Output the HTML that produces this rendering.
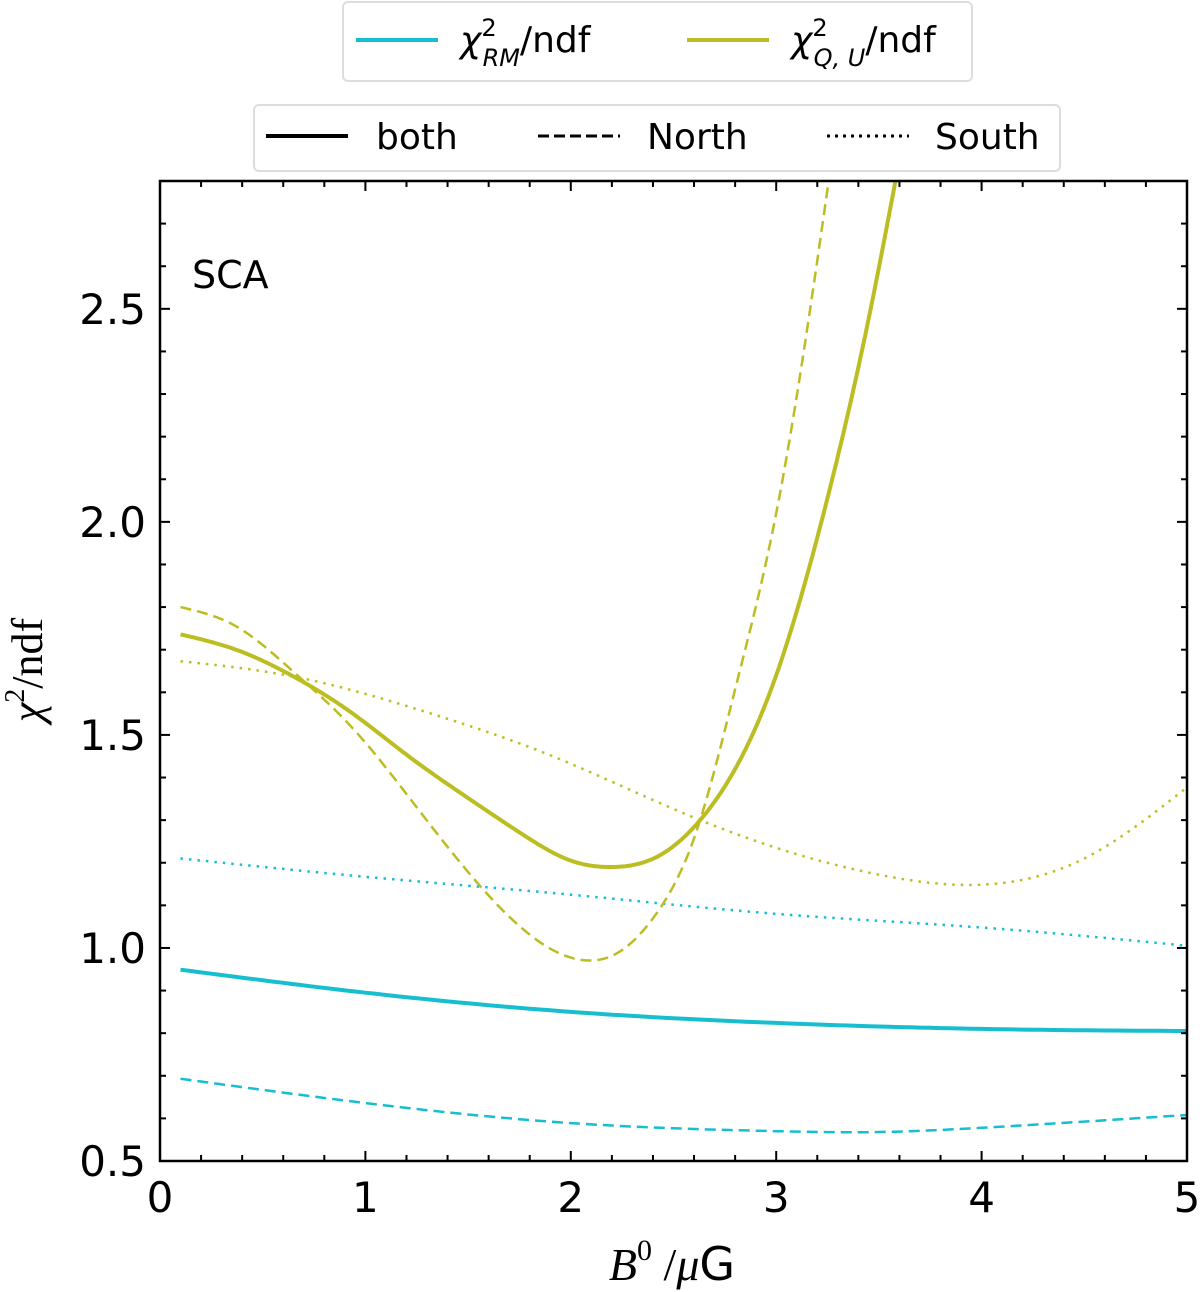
<!DOCTYPE html>
<html><head><meta charset="utf-8"><style>
body{margin:0;background:#fff;width:1200px;height:1292px;overflow:hidden}
svg{display:block}
</style></head><body>
<svg id="chart" width="1200" height="1292" xmlns="http://www.w3.org/2000/svg" font-family="'DejaVu Sans', 'Liberation Sans', sans-serif">
<defs><clipPath id="clip"><rect x="160" y="181" width="1027" height="980"/></clipPath></defs>
<g id="series" clip-path="url(#clip)"></g>
<rect x="160" y="181" width="1027" height="980" fill="none" stroke="#000" stroke-width="2.5"/>
<g id="ticks"></g>
<text x="192" y="288" font-size="38">SCA</text>
<text x="672" y="1280" font-size="46" text-anchor="middle" font-family="'Liberation Serif', serif"><tspan font-style="italic">B</tspan><tspan font-size="30" dy="-20">0</tspan><tspan dy="20"> /</tspan><tspan font-style="italic">μ</tspan><tspan font-family="'DejaVu Sans', sans-serif">G</tspan></text>
<text transform="translate(42,670) rotate(-90)" font-size="44" text-anchor="middle" font-family="'Liberation Serif', serif"><tspan font-style="italic">χ</tspan><tspan font-size="28" dy="-18">2</tspan><tspan dy="18">/ndf</tspan></text>
<g>
<rect x="343" y="2" width="629" height="79" rx="5" fill="#fff" stroke="#ddd" stroke-width="2"/>
<line x1="356" y1="40" x2="438" y2="40" stroke="#17becf" stroke-width="4"/>
<text x="460" y="52" font-size="36"><tspan font-style="italic">χ</tspan><tspan font-size="24" dy="-16">2</tspan><tspan font-size="24" font-style="italic" dx="-14" dy="30">RM</tspan><tspan dy="-14">/ndf</tspan></text>
<line x1="687" y1="40" x2="769" y2="40" stroke="#bcbd22" stroke-width="4"/>
<text x="791" y="52" font-size="36"><tspan font-style="italic">χ</tspan><tspan font-size="24" dy="-16">2</tspan><tspan font-size="24" font-style="italic" dx="-14" dy="30">Q, U</tspan><tspan dy="-14">/ndf</tspan></text>
</g>
<g>
<rect x="254" y="105" width="806" height="66" rx="5" fill="#fff" stroke="#ddd" stroke-width="2"/>
<line x1="266" y1="136" x2="348" y2="136" stroke="#000" stroke-width="4"/>
<text x="376" y="149" font-size="36">both</text>
<line x1="538" y1="136" x2="620" y2="136" stroke="#000" stroke-width="3" stroke-dasharray="11,5"/>
<text x="647" y="149" font-size="36">North</text>
<line x1="827" y1="136" x2="909" y2="136" stroke="#000" stroke-width="3" stroke-dasharray="3,5"/>
<text x="935" y="149" font-size="36">South</text>
</g>
</svg>
<script>
const xRM = [0.1,1,2,3,4,5];
const rmBoth = [0.949,0.895,0.85,0.824,0.81,0.805];
const xRMn = [0.1,1,2,3,3.5,4,5];
const rmNorth = [0.693,0.636,0.589,0.57,0.568,0.578,0.608];
const rmSouth = [1.21,1.167,1.125,1.08,1.048,1.005];
const xQUb = [0.1,0.37,0.65,0.93,1.21,1.49,1.77,2.0,2.2,2.42,2.63,2.80,3.0,3.22,3.46,3.6];
const quBoth = [1.736,1.70,1.637,1.553,1.45,1.355,1.265,1.205,1.19,1.214,1.30,1.42,1.64,2.0,2.5,2.85];
const xQUn = [0.1,0.37,0.65,0.93,1.21,1.49,1.77,2.05,2.23,2.42,2.61,2.80,3.0,3.15,3.27];
const quNorth = [1.80,1.755,1.648,1.52,1.355,1.184,1.043,0.972,0.989,1.083,1.271,1.607,2.02,2.45,2.85];
const xQUs = [0.1,0.65,1.30,1.86,2.63,3.0,3.5,3.9,4.5,5.0];
const quSouth = [1.673,1.637,1.553,1.46,1.30,1.235,1.172,1.148,1.21,1.377];
const xTicks = [0,1,2,3,4,5];
const yTicks = [0.5,1.0,1.5,2.0,2.5];
const X = v => 160 + (v-0)*1027/5;
const Y = v => 1161 - (v-0.5)*980/2.3;
const NS='http://www.w3.org/2000/svg';
function spline(xs,ys){
  const n=xs.length,h=[],a=[],l=[1],mu=[0],z=[0],c=new Array(n).fill(0),b=[],d=[];
  for(let i=0;i<n-1;i++)h.push(xs[i+1]-xs[i]);
  for(let i=1;i<n-1;i++)a[i]=3/h[i]*(ys[i+1]-ys[i])-3/h[i-1]*(ys[i]-ys[i-1]);
  for(let i=1;i<n-1;i++){l[i]=2*(xs[i+1]-xs[i-1])-h[i-1]*mu[i-1];mu[i]=h[i]/l[i];z[i]=(a[i]-h[i-1]*z[i-1])/l[i];}
  for(let j=n-2;j>=0;j--){c[j]=(j>0?z[j]:0)-mu[j]*c[j+1];b[j]=(ys[j+1]-ys[j])/h[j]-h[j]*(c[j+1]+2*c[j])/3;d[j]=(c[j+1]-c[j])/(3*h[j]);}
  const pts=[];
  for(let j=0;j<n-1;j++){for(let k=0;k<20;k++){const t=h[j]*k/20;pts.push([xs[j]+t,ys[j]+b[j]*t+c[j]*t*t+d[j]*t*t*t]);}}
  pts.push([xs[n-1],ys[n-1]]);
  return 'M'+pts.map(p=>X(p[0]).toFixed(1)+','+Y(p[1]).toFixed(1)).join(' L');
}
const g=document.getElementById('series');
function add(xs,ys,color,w,dash,name){
  const el=document.createElementNS(NS,'path');
  el.setAttribute('d',spline(xs,ys));
  el.setAttribute('fill','none');el.setAttribute('stroke',color);el.setAttribute('stroke-width',w);
  if(dash)el.setAttribute('stroke-dasharray',dash);
  
  
  g.appendChild(el);
}
add(xRM,rmBoth,'#17becf',4,null,'rm-both-line');
add(xRMn,rmNorth,'#17becf',2.5,'11,6','rm-north-line');
add(xRM,rmSouth,'#17becf',2.5,'2.5,6','rm-south-line');
add(xQUb,quBoth,'#bcbd22',4,null,'qu-both-line');
add(xQUn,quNorth,'#bcbd22',2.5,'11,6','qu-north-line');
add(xQUs,quSouth,'#bcbd22',2.5,'2.5,6','qu-south-line');
const t=document.getElementById('ticks');
function line(x1,y1,x2,y2){const l=document.createElementNS(NS,'line');l.setAttribute('x1',x1);l.setAttribute('y1',y1);l.setAttribute('x2',x2);l.setAttribute('y2',y2);l.setAttribute('stroke','#000');l.setAttribute('stroke-width',2);t.appendChild(l);}
function txt(x,y,s,anchor){const e=document.createElementNS(NS,'text');e.setAttribute('x',x);e.setAttribute('y',y);e.setAttribute('font-size','42');e.setAttribute('text-anchor',anchor);e.textContent=s;


t.appendChild(e);}
for(let i=0;i<=25;i++){const v=i*0.2;const big=i%5===0;line(X(v),1161,X(v),1161-(big?10:6));line(X(v),181,X(v),181+(big?10:6));}
for(let i=0;i<=23;i++){const v=0.5+i*0.1;const big=i%5===0;line(160,Y(v),160+(big?10:6),Y(v));line(1187,Y(v),1187-(big?10:6),Y(v));}
xTicks.forEach(v=>txt(X(v),1212,String(v),'middle'));
yTicks.forEach(v=>txt(146,Y(v)+15,v.toFixed(1),'end'));
</script>
</body></html>
